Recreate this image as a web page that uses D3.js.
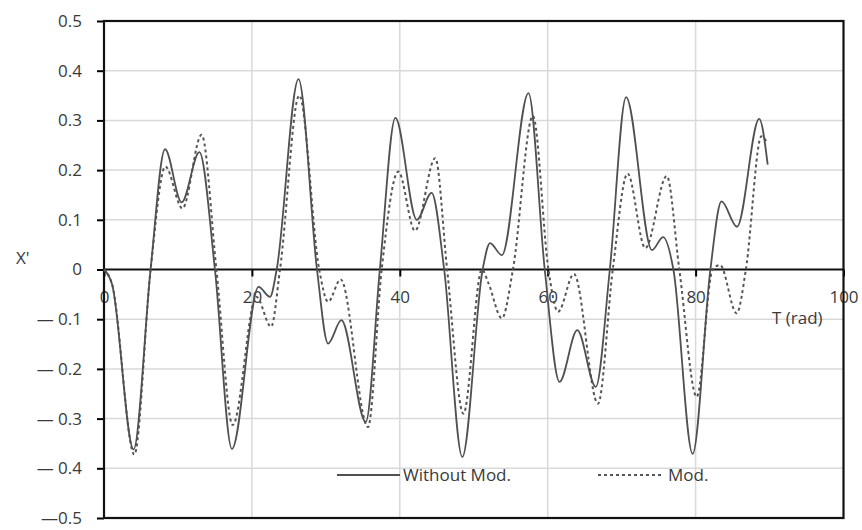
<!DOCTYPE html>
<html>
<head>
<meta charset="utf-8">
<script src="https://cdn.jsdelivr.net/npm/d3@7"></script>
<style>
  body { margin: 0; background: #fff; }
  text { font-family: "Open Sans", "Noto Sans", sans-serif; fill: #3a3a3a; }
</style>
</head>
<body>
<script>
// curve: T (rad) and X' at extrema / zero crossings
const tSolid = [0, 1.1, 4.0, 6.3, 8.25, 10.5, 12.9, 15.0, 17.3, 20.9, 22.45, 23.35, 26.3, 28.8, 30.3, 32.1, 35.4, 37.3, 39.4, 42.3, 44.3, 46.0, 48.45, 51.2, 52.2, 53.8, 57.4, 59.6, 61.6, 64.0, 66.5, 68.4, 70.6, 74.1, 75.6, 77.0, 79.6, 82.0, 83.5, 85.6, 88.6, 89.75];
const xSolid = [0, -0.03, -0.362, 0, 0.242, 0.135, 0.236, 0, -0.361, -0.035, -0.055, 0, 0.383, 0, -0.149, -0.102, -0.307, 0, 0.305, 0.100, 0.154, 0, -0.377, 0, 0.053, 0.029, 0.355, 0, -0.226, -0.122, -0.236, 0, 0.347, 0.039, 0.065, 0, -0.371, 0, 0.137, 0.086, 0.303, 0.211];

const tMod = [0, 1.1, 4.1, 6.3, 8.3, 10.6, 13.2, 15.2, 17.4, 20.6, 22.6, 23.8, 26.4, 29.1, 30.3, 32.0, 35.7, 37.55, 39.8, 42.05, 44.8, 46.4, 48.6, 51.1, 52.0, 53.8, 55.3, 58.0, 60.1, 61.4, 63.55, 66.8, 68.8, 70.8, 73.2, 76.1, 77.8, 80.15, 82.3, 83.3, 85.55, 86.8, 88.9, 89.7];
const xMod = [0, -0.03, -0.372, 0, 0.207, 0.123, 0.271, 0, -0.313, -0.055, -0.115, 0, 0.35, 0, -0.065, -0.02, -0.317, 0, 0.197, 0.078, 0.224, 0, -0.29, 0, -0.028, -0.098, 0, 0.309, 0, -0.085, -0.009, -0.27, 0, 0.193, 0.043, 0.188, 0, -0.256, 0, 0.009, -0.088, 0, 0.268, 0.254];

const xTicks = [0, 20, 40, 60, 80, 100];
const yTicks = [-0.5, -0.4, -0.3, -0.2, -0.1, 0, 0.1, 0.2, 0.3, 0.4, 0.5];
const yTickLabels = ["\u20140.5", "\u2014 0.4", "\u2014 0.3", "\u2014 0.2", "\u2014 0.1", "0", "0.1", "0.2", "0.3", "0.4", "0.5"];

const w = 862, h = 530;
const pLeft = 104, pRight = 843.5, pTop = 21, pBottom = 518;
const fs = '17px';

const x = d3.scaleLinear().domain([0, 100]).range([pLeft, pRight]);
const y = d3.scaleLinear().domain([-0.5, 0.5]).range([pBottom, pTop]);

const svg = d3.select('body').append('svg')
    .attr('width', w)
    .attr('height', h);

// grid
svg.append('g').selectAll('line')
    .data(yTicks.filter(d => d !== 0 && Math.abs(d) !== 0.5))
    .enter().append('line')
    .attr('x1', pLeft).attr('x2', pRight)
    .attr('y1', d => y(d)).attr('y2', d => y(d))
    .attr('stroke', '#d9d9d9').attr('stroke-width', 1.5);
svg.append('g').selectAll('line')
    .data(xTicks.filter(d => d > 0 && d < 100))
    .enter().append('line')
    .attr('x1', d => x(d)).attr('x2', d => x(d))
    .attr('y1', pTop).attr('y2', pBottom)
    .attr('stroke', '#d9d9d9').attr('stroke-width', 1.5);

// y axis
const yAxis = d3.axisLeft(y)
    .tickValues(yTicks)
    .tickSize(7)
    .tickPadding(15)
    .tickFormat((d, i) => yTickLabels[i]);
const gy = svg.append('g')
    .attr('transform', 'translate(' + pLeft + ',0)')
    .call(yAxis);
gy.select('.domain').remove();
gy.selectAll('line').attr('stroke', '#000').attr('stroke-width', 2);
gy.selectAll('text').style('font-size', fs).attr('fill', '#3a3a3a');

// x axis on the zero line
const xAxis = d3.axisBottom(x)
    .tickValues(xTicks)
    .tickSize(7)
    .tickPadding(14)
    .tickFormat(d3.format('d'));
const gx = svg.append('g')
    .attr('transform', 'translate(0,' + y(0) + ')')
    .call(xAxis);
gx.select('.domain').remove();
gx.selectAll('line').attr('stroke', '#000').attr('stroke-width', 2);
gx.selectAll('text').style('font-size', fs).attr('fill', '#3a3a3a');

// frame and zero line
svg.append('rect')
    .attr('x', pLeft).attr('y', pTop)
    .attr('width', pRight - pLeft).attr('height', pBottom - pTop)
    .attr('fill', 'none').attr('stroke', '#111').attr('stroke-width', 2.2);
svg.append('line')
    .attr('x1', pLeft).attr('x2', pRight)
    .attr('y1', y(0)).attr('y2', y(0))
    .attr('stroke', '#111').attr('stroke-width', 2.2);

const line = d3.line()
    .x(d => x(d[0]))
    .y(d => y(d[1]))
    .curve(d3.curveMonotoneX);

svg.append('path')
    .datum(d3.zip(tMod, xMod))
    .attr('d', line)
    .attr('fill', 'none')
    .attr('stroke', '#555')
    .attr('stroke-width', 2)
    .attr('stroke-dasharray', '3,3');

svg.append('path')
    .datum(d3.zip(tSolid, xSolid))
    .attr('d', line)
    .attr('fill', 'none')
    .attr('stroke', '#505050')
    .attr('stroke-width', 1.8);

// axis titles
svg.append('text').attr('x', 16).attr('y', 264).style('font-size', fs).text("X'");
svg.append('text').attr('x', 772).attr('y', 324).style('font-size', fs).text('T (rad)');

// legend
const lg = svg.append('g');
lg.append('line').attr('x1', 337).attr('x2', 400).attr('y1', 475).attr('y2', 475)
    .attr('stroke', '#505050').attr('stroke-width', 1.8);
lg.append('text').attr('x', 403).attr('y', 475).attr('dy', '0.35em')
    .style('font-size', fs).text('Without Mod.');
lg.append('line').attr('x1', 598).attr('x2', 661).attr('y1', 475).attr('y2', 475)
    .attr('stroke', '#555').attr('stroke-width', 2).attr('stroke-dasharray', '3,3');
lg.append('text').attr('x', 668).attr('y', 475).attr('dy', '0.35em')
    .style('font-size', fs).text('Mod.');
</script>
</body>
</html>
